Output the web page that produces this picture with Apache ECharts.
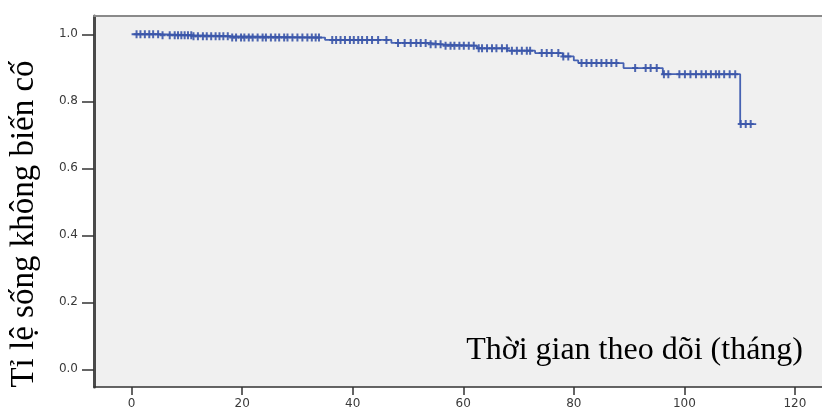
<!DOCTYPE html>
<html>
<head>
<meta charset="utf-8">
<script src="https://cdn.jsdelivr.net/npm/echarts@6/dist/echarts.min.js"></script>
<style>
html,body{margin:0;padding:0;background:#fff;}
#chart{width:822px;height:410px;}
</style>
</head>
<body>
<div id="chart"></div>
<script>
// Kaplan-Meier step curve: time (months) and survival from that time on
const stepTimes = [0, 5, 11, 18, 35, 47, 54, 56, 62.5, 68, 73, 78, 80, 80.8, 89, 96.1, 110.1, 113];
const stepSurv  = [1.0, 0.997, 0.994, 0.990, 0.983, 0.974, 0.970, 0.966, 0.958, 0.951, 0.944, 0.934, 0.922, 0.914, 0.899, 0.881, 0.732, 0.732];
// Censored observations (times, months)
const censorTimes = [0.9,1.6,2.4,3.2,3.9,4.8,5.6,6.9,7.8,8.4,9.0,9.6,10.2,10.8,11.2,12.0,12.9,13.6,14.4,15.2,15.9,16.6,17.4,18.2,18.9,19.8,20.4,21.2,21.9,22.8,23.7,24.3,25.2,26.0,26.7,27.6,28.2,29.1,30.0,30.9,31.8,32.6,33.3,33.9,
  36.3,37.0,37.8,38.6,39.5,40.2,41.0,41.7,42.6,43.5,44.6,46.1,48.2,49.4,50.5,51.5,52.3,53.2,54.1,55.0,55.9,56.8,57.7,58.4,59.3,60.1,61.0,61.9,62.8,63.4,64.3,65.2,66.0,67.0,67.9,68.8,69.7,70.6,71.5,72.1,74.2,75.1,76.0,77.2,78.1,79.0,
  81.4,82.3,83.2,84.1,85.0,85.9,86.8,87.7,
  91.1,93.0,93.9,95.0,
  96.3,97.1,99.1,100.1,101.1,102.1,103.1,103.9,104.8,105.7,106.3,107.2,108.2,109.2,
  110.2,111.1,112.0];
const xTicks = [0, 20, 40, 60, 80, 100, 120];
const yTicks = [0, 0.2, 0.4, 0.6, 0.8, 1.0];
const yTitle = 'Tỉ lệ sống không biến cố';
const xTitle = 'Thời gian theo dõi (tháng)';

function survAt(t){
  let s = stepSurv[0];
  for (let i = 0; i < stepTimes.length; i++) { if (stepTimes[i] <= t) s = stepSurv[i]; }
  return s;
}
const lineData = stepTimes.map((t, i) => [t, stepSurv[i]]);
const censorData = censorTimes.map(t => [t, survAt(t)]);

const chart = echarts.init(document.getElementById('chart'), null, {renderer: 'canvas'});
const labelFont = {fontFamily: 'DejaVu Sans', fontSize: 12, color: '#3a3a3a'};
chart.setOption({
  animation: false,
  backgroundColor: '#ffffff',
  grid: {left: 94, top: 16, width: 731, height: 372, show: true, backgroundColor: '#f0f0f0', borderWidth: 0},
  xAxis: [{
    type: 'value', position: 'bottom', min: -6.8, max: 124.9,
    axisLine: {show: true, onZero: false, lineStyle: {color: '#333', width: 1.5}},
    axisTick: {show: true, customValues: xTicks, length: 8, lineStyle: {color: '#333', width: 1.5}},
    axisLabel: Object.assign({show: true, customValues: xTicks, margin: 11}, labelFont),
    splitLine: {show: false}
  }, {
    type: 'value', position: 'top', min: -6.8, max: 124.9,
    axisLine: {show: true, onZero: false, lineStyle: {color: '#8a8a8a', width: 2}},
    axisTick: {show: false}, axisLabel: {show: false}, splitLine: {show: false}
  }],
  yAxis: {
    type: 'value', min: -0.0527, max: 1.0545,
    axisLine: {show: true, onZero: false, lineStyle: {color: '#4a4a4a', width: 3}},
    axisTick: {show: true, customValues: yTicks, length: 12, lineStyle: {color: '#333', width: 1.5}},
    axisLabel: Object.assign({show: true, customValues: yTicks, margin: 16, formatter: v => v.toFixed(1)}, labelFont),
    splitLine: {show: false}
  },
  series: [{
    type: 'line', data: lineData, step: 'end', showSymbol: false, symbol: 'none',
    lineStyle: {color: '#4662b2', width: 1.8}, z: 2
  }, {
    type: 'scatter', data: censorData,
    symbol: 'path://M2,0H4V8H2Z M0,3H6V5H0Z',
    symbolSize: [6, 8], symbolKeepAspect: false,
    itemStyle: {color: '#3a55a8', opacity: 0.9}, z: 3
  }],
  graphic: [{
    type: 'text', x: 803, y: 351, z: 10,
    style: {text: xTitle, font: '32px "Liberation Serif"', fill: '#000', align: 'right', verticalAlign: 'middle'}
  }, {
    type: 'text', x: 24, y: 224, rotation: Math.PI / 2, z: 10,
    style: {text: yTitle, font: '33px "Liberation Serif"', fill: '#000', align: 'center', verticalAlign: 'middle'}
  }]
});
</script>
</body>
</html>
